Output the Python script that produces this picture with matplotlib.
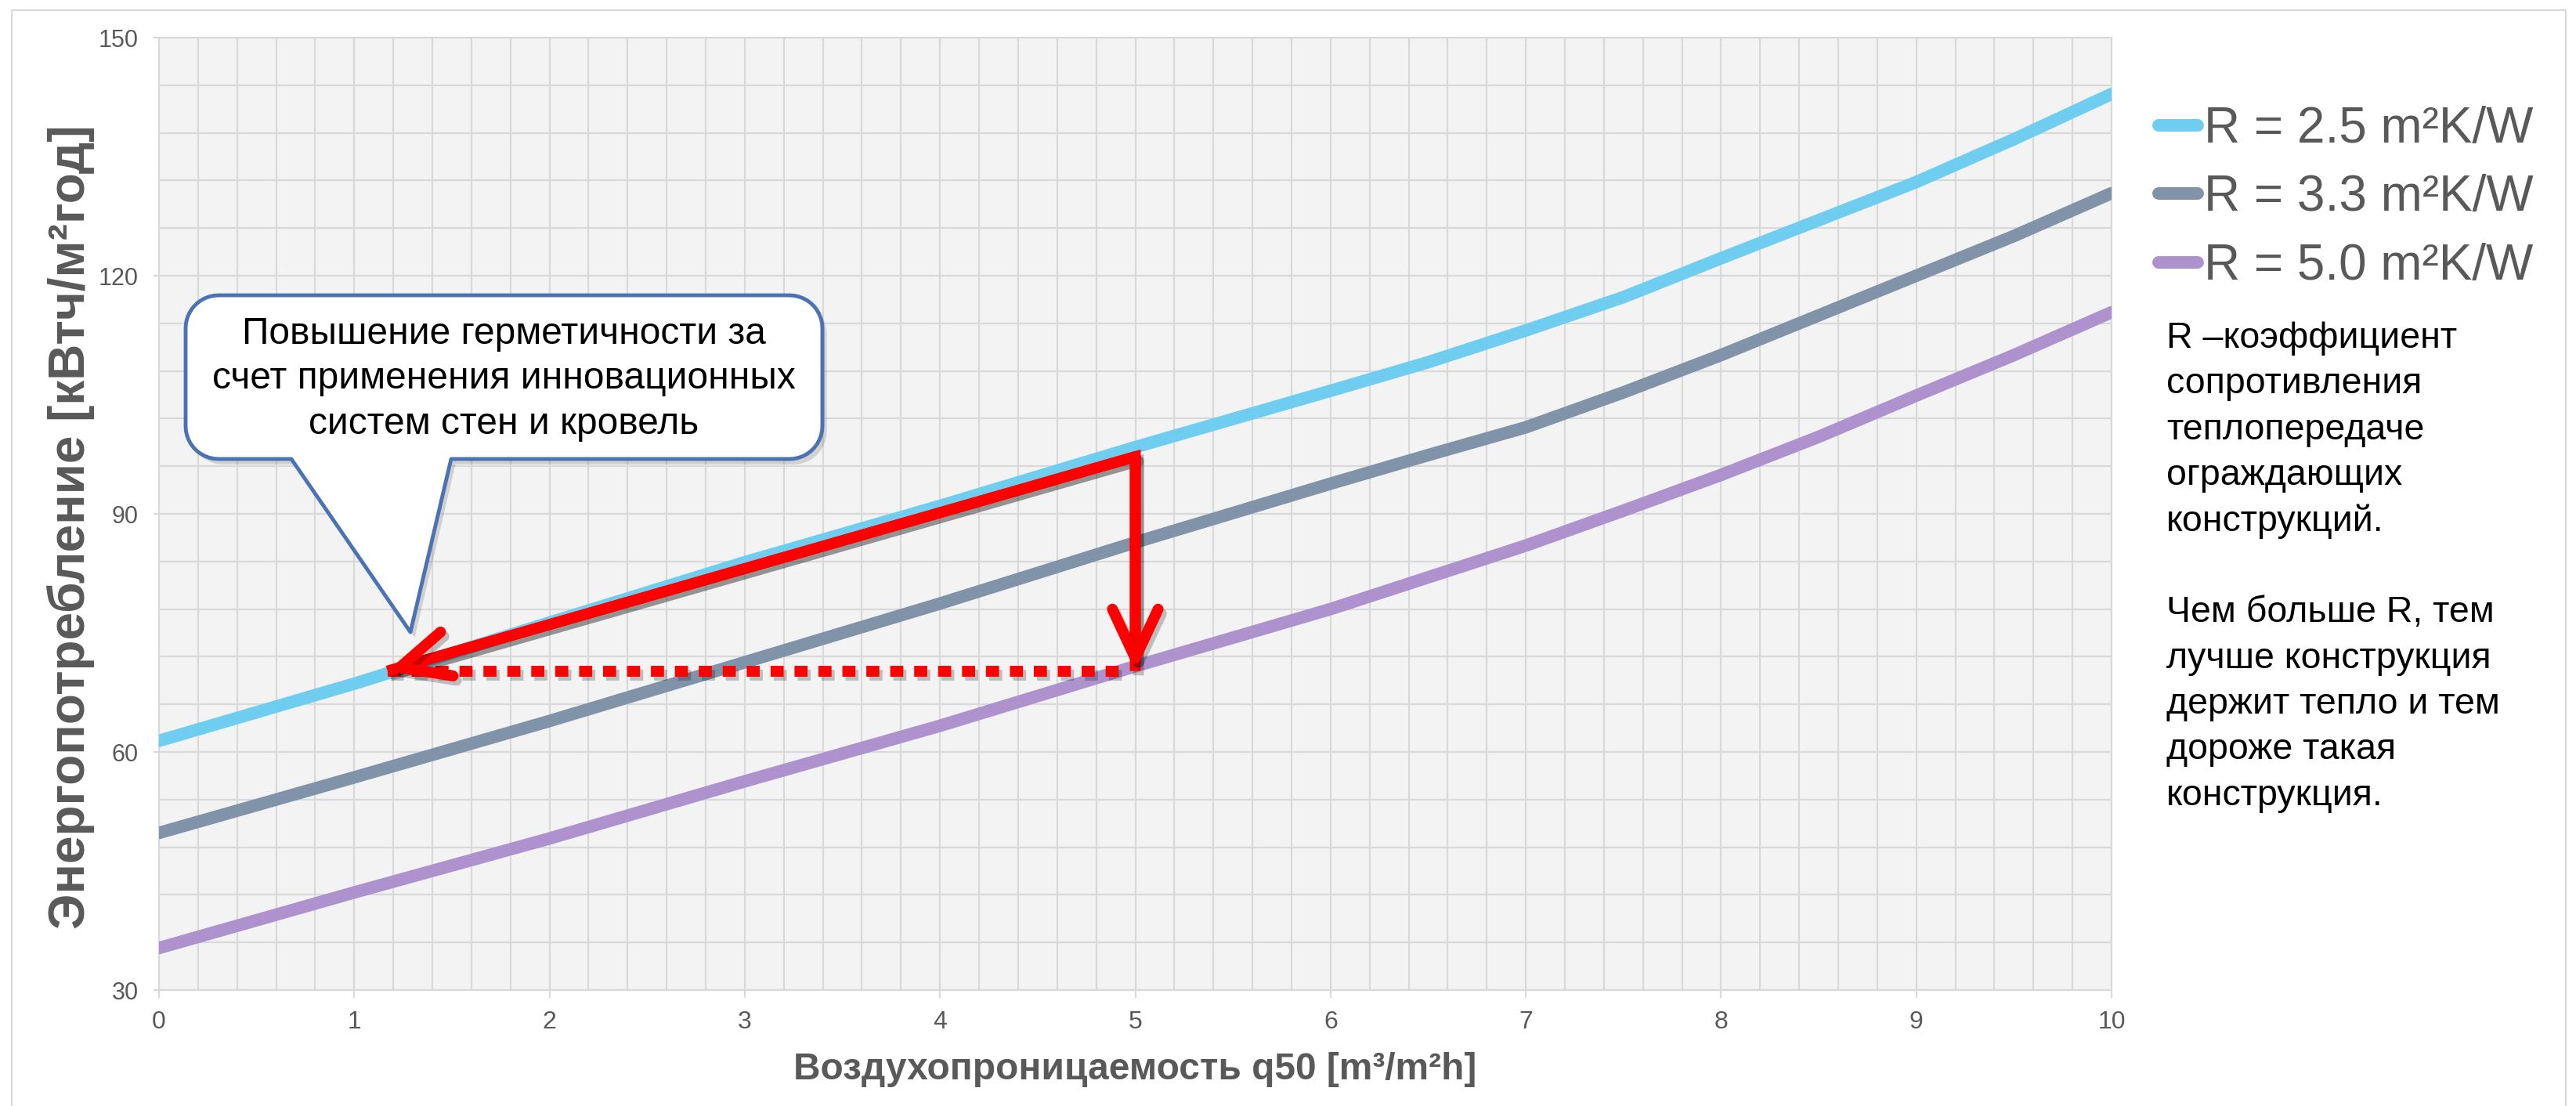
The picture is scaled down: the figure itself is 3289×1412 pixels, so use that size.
import numpy as np
import matplotlib
matplotlib.use("Agg")
import matplotlib.pyplot as plt
import matplotlib.patheffects as pe
from matplotlib.path import Path
from matplotlib.patches import PathPatch, Rectangle
from matplotlib.ticker import MultipleLocator

# airtightness q50 [m3/m2h]
q50 = [0, 1, 2, 3, 4, 5, 6, 6.5, 7, 7.5, 8, 8.5, 9, 9.5, 10]

# energy use [kWh/m2 year] for three insulation levels
r25 = [61.4, 68.6, 76.3, 83.9, 91.0, 98.4, 105.5, 109.1, 113.1, 117.3, 122.2,
       127.0, 131.8, 137.2, 142.9]
r33 = [49.8, 56.8, 63.9, 71.3, 78.7, 86.4, 93.8, 97.4, 100.9, 105.3, 110.0,
       115.0, 120.0, 125.0, 130.4]
r50 = [35.3, 42.3, 49.1, 56.3, 63.3, 70.8, 78.0, 82.0, 86.0, 90.4, 94.9,
       99.7, 104.9, 110.0, 115.4]

labels = ["R = 2.5 m²K/W", "R = 3.3 m²K/W", "R = 5.0 m²K/W"]
colors = ["#6fcdf0", "#8193a8", "#ad92cd"]

# red arrow: from q50=5 on the R=2.5 curve back to q50~1.17, then down to R=5.0
arrow_q_from = 5.0
arrow_q_to = 1.17
arrow_top = 97.2
arrow_level = 70.2

callout_text = ("Повышение герметичности за\n"
                "счет применения инновационных\n"
                "систем стен и кровель")
note_text = ("R –коэффициент\nсопротивления\nтеплопередаче\nограждающих\n"
             "конструкций.\n\nЧем больше R, тем\nлучше конструкция\n"
             "держит тепло и тем\nдороже такая\nконструкция.")

NARROW = ["Liberation Sans Narrow", "Liberation Sans", "DejaVu Sans"]
REGULAR = ["Liberation Sans", "DejaVu Sans"]
GREY = "#595959"
GRID = "#d9d9d9"

W, H = 3289, 1412
fig = plt.figure(figsize=(W / 100, H / 100), dpi=100)
fig.patch.set_facecolor("white")

ax = fig.add_axes([203 / W, 1 - 1264 / H, (2696 - 203) / W, (1264 - 48) / H])
ax.set_facecolor("#f3f3f3")
ax.set_xlim(0, 10)
ax.set_ylim(30, 150)
ax.xaxis.set_major_locator(MultipleLocator(1))
ax.xaxis.set_minor_locator(MultipleLocator(0.2))
ax.yaxis.set_major_locator(MultipleLocator(30))
ax.yaxis.set_minor_locator(MultipleLocator(6))
ax.grid(True, which="both", color=GRID, lw=1.6, zorder=0)
ax.set_axisbelow(True)
for s in ax.spines.values():
    s.set_color(GRID)
    s.set_linewidth(1.6)
ax.tick_params(axis="both", which="minor", length=0)
ax.tick_params(axis="y", which="major", length=5, width=1.5, color=GRID, pad=14,
               labelsize=22, labelcolor=GREY)
ax.tick_params(axis="x", which="major", length=7, width=1.5, color=GRID, pad=12,
               labelsize=23, labelcolor=GREY)
for lab in ax.get_xticklabels() + ax.get_yticklabels():
    lab.set_family(NARROW)

handles = []
for y, c, lab in zip([r25, r33, r50], colors, labels):
    ln, = ax.plot(q50, y, color=c, lw=11.5, solid_capstyle="round",
                  solid_joinstyle="round", label=lab, zorder=3)
    handles.append(ln)

ax.set_xlabel("Воздухопроницаемость q50 [m³/m²h]", family=NARROW, weight="bold",
              fontsize=34.5, color=GREY, labelpad=16)
ax.set_ylabel("Энергопотребление [кВтч/м²год]", family=REGULAR, weight="bold",
              fontsize=46, color=GREY, labelpad=3)
ax.yaxis.label.set_y(0.486)

# red arrows
shadow = [pe.SimpleLineShadow(offset=(3, -4), shadow_color="black", alpha=0.22),
          pe.Normal()]
ax.plot([arrow_q_to, arrow_q_from, arrow_q_from],
        [arrow_level, arrow_top, arrow_level],
        color="red", lw=10, solid_joinstyle="miter", solid_capstyle="butt",
        zorder=6, path_effects=shadow)
head = dict(arrowstyle="->,head_length=0.45,head_width=0.21", mutation_scale=100,
            lw=10, color="red", shrinkA=0, shrinkB=0, capstyle="round",
            joinstyle="round", path_effects=shadow, zorder=6)
ax.annotate("", xy=(arrow_q_to, arrow_level), xytext=(arrow_q_from, arrow_top),
            arrowprops=head, zorder=6)
ax.annotate("", xy=(arrow_q_from, arrow_level), xytext=(arrow_q_from, arrow_top),
            arrowprops=head, zorder=6)
ax.plot([arrow_q_to, arrow_q_from - 0.05], [arrow_level, arrow_level],
        color="red", lw=10, linestyle=(0, (1.2, 1.0)), dash_capstyle="butt",
        zorder=5, path_effects=shadow)

ax.legend(handles=handles, loc="upper left",
          bbox_to_anchor=(2756 / W, 1 - 135 / H), bbox_transform=fig.transFigure,
          frameon=False, prop={"family": REGULAR, "size": 46},
          labelcolor=GREY, handlelength=0.78, handletextpad=0.12,
          labelspacing=0.43, borderpad=0, borderaxespad=0)

fig.text(2766 / W, 1 - 410 / H, note_text, ha="left", va="top", fontsize=33.5,
         family=REGULAR, color="black", linespacing=1.42)

# overlay in pixel coordinates for the callout bubble and the outer frame
ov = fig.add_axes([0, 0, 1, 1])
ov.set_xlim(0, W)
ov.set_ylim(H, 0)
ov.axis("off")
ov.patch.set_visible(False)

ov.add_patch(Rectangle((15, 13), 3261, 1450, fill=False, ec=GRID, lw=1.5))


def bubble(x0, y0, x1, y1, r, tail_a, tail_b, tip):
    verts = []
    def arc(cx, cy, a0, a1):
        for t in np.linspace(np.radians(a0), np.radians(a1), 12):
            verts.append((cx + r * np.cos(t), cy + r * np.sin(t)))
    arc(x0 + r, y0 + r, 180, 270)
    arc(x1 - r, y0 + r, 270, 360)
    arc(x1 - r, y1 - r, 0, 90)
    verts.append((tail_b, y1))
    verts.append(tip)
    verts.append((tail_a, y1))
    arc(x0 + r, y1 - r, 90, 180)
    verts.append(verts[0])
    codes = [Path.MOVETO] + [Path.LINETO] * (len(verts) - 2) + [Path.CLOSEPOLY]
    return Path(verts, codes)


bp = PathPatch(bubble(237, 377, 1050, 586, 42, 372, 576, (524, 807)),
               fc="white", ec="#4a72b5", lw=3.5, joinstyle="round",
               path_effects=[pe.SimplePatchShadow(offset=(4, -5), alpha=0.2),
                             pe.Normal()])
ov.add_patch(bp)
ov.text(643, 484, callout_text, ha="center", va="center", fontsize=34.5,
        family=NARROW, color="black", linespacing=1.36)

fig.savefig("out.png", dpi=100)
